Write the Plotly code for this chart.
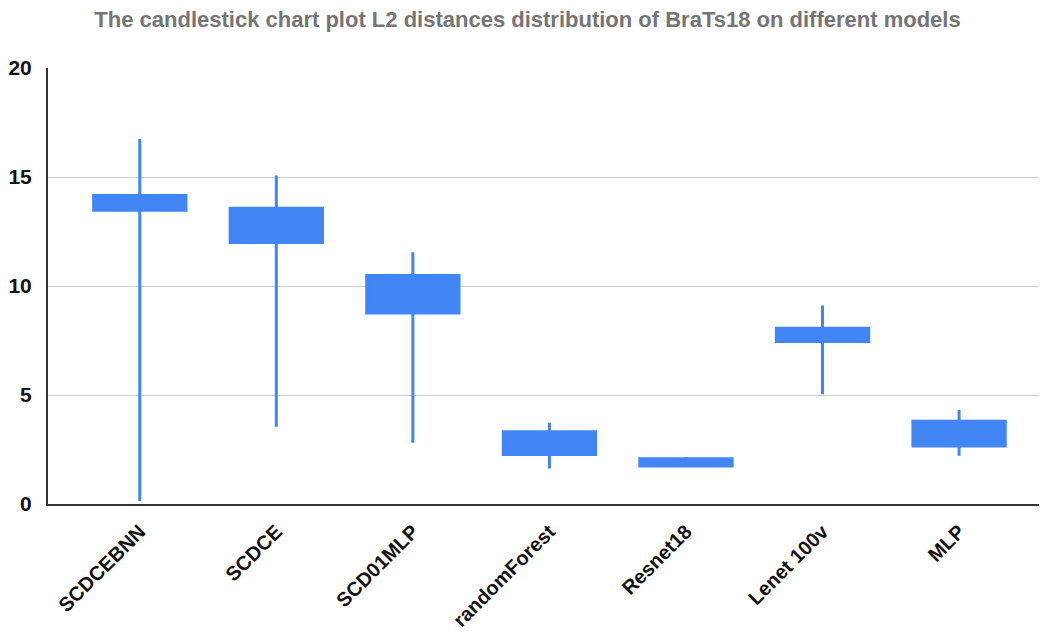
import plotly.graph_objects as go

models = ["SCDCEBNN", "SCDCE", "SCD01MLP", "randomForest", "Resnet18", "Lenet 100v", "MLP"]
low = [0.14, 3.54, 2.81, 1.63, 1.69, 5.03, 2.21]
open_ = [13.48, 11.99, 8.76, 2.27, 1.74, 7.45, 2.66]
close = [14.15, 13.57, 10.48, 3.31, 2.07, 8.06, 3.80]
high = [16.74, 15.07, 11.55, 3.73, 2.16, 9.10, 4.31]

color = "#4285F4"

fig = go.Figure()
fig.add_trace(go.Box(
    x=models,
    q1=open_,
    median=open_,
    q3=close,
    lowerfence=low,
    upperfence=high,
    width=0.676,
    whiskerwidth=0,
    fillcolor=color,
    line=dict(color=color, width=3),
    showlegend=False,
    hoverinfo="skip",
))

fig.update_layout(
    width=1039, height=631,
    margin=dict(l=40, r=0, t=60, b=135),
    paper_bgcolor="white", plot_bgcolor="white",
    title=dict(
        text="The candlestick chart plot L2 distances distribution of BraTs18 on different models",
        x=0.5, xanchor="center", y=1 - 11 / 631, yanchor="middle",
        font=dict(family="Liberation Sans, Arial", size=22, color="#757575", weight="bold"),
    ),
    xaxis=dict(
        type="category",
        range=[-0.672, 6.644],
        showgrid=False, zeroline=False,
        showline=True, linecolor="#333333", linewidth=2,
        tickangle=-45,
        ticks="",
        ticklabelstandoff=6,
        tickfont=dict(family="Liberation Sans, Arial", size=20, color="#111111", weight="bold"),
    ),
    yaxis=dict(
        range=[0, 20],
        tickvals=[0, 5, 10, 15, 20],
        showgrid=True, gridcolor="#cccccc", gridwidth=1,
        zeroline=False,
        showline=True, linecolor="#333333", linewidth=2,
        ticks="",
        ticklabelstandoff=10,
        tickfont=dict(family="Liberation Sans, Arial", size=21, color="#111111", weight="bold"),
    ),
)

fig.write_html("out.html")
